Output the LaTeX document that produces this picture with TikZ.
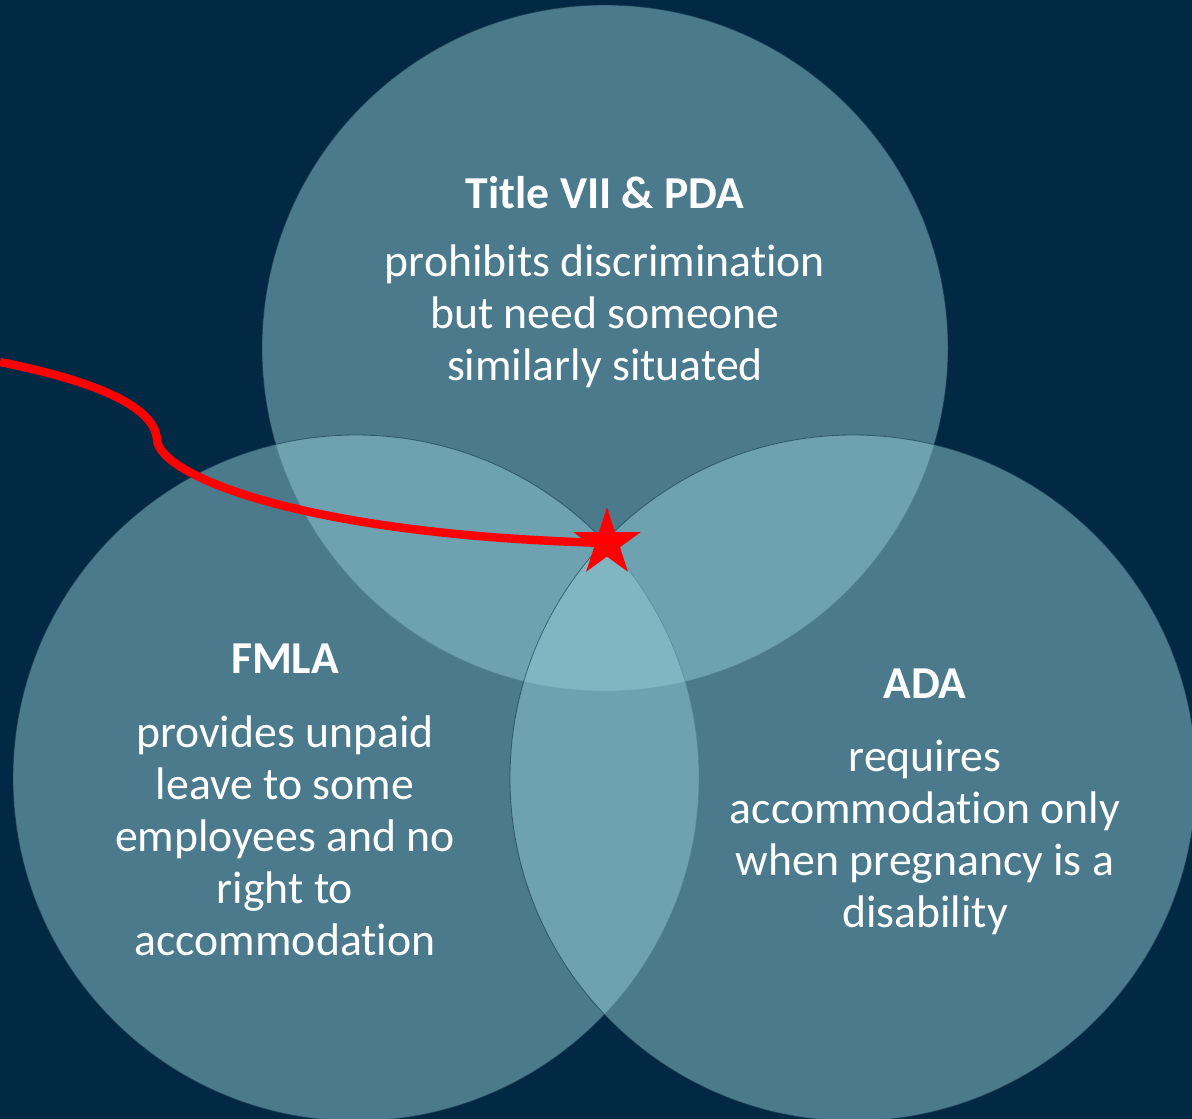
\documentclass[tikz,border=0pt]{standalone}
\usepackage{fontspec}
\setmainfont{Carlito}[Ligatures=NoCommon]
\usetikzlibrary{shapes.geometric}
\definecolor{navy}{RGB}{2,41,67}
\definecolor{venn}{RGB}{146,203,213}
\definecolor{rim}{RGB}{20,55,75}

\begin{document}
\begin{tikzpicture}[x=0.025cm, y=-0.025cm,
  lawtext/.style={text=white, inner sep=0pt, anchor=base, align=center, font=\fontsize{32.5}{36.9}\selectfont},
  lawhead/.style={lawtext, font=\fontsize{32.5}{36.9}\selectfont\bfseries}]
\fill[navy] (0,0) rectangle (1192,1119);
\useasboundingbox (0,0) rectangle (1192,1119);
\clip (0,0) rectangle (1192,1119);

% the three laws
\foreach \cx/\cy in {605/348, 356/778, 853/778} \draw[rim, draw opacity=.6, line width=.6pt, fill=venn, fill opacity=.5] (\cx,\cy) circle (343);

% base anchor sits on the last line of each block
\node[lawhead] (pda) at (605,208) {Title VII \& PDA};
\node[lawtext] (pdatext) at (605,380) {prohibits discrimination\\but need someone\\similarly situated};
\node[lawhead] (fmla) at (285,673) {FMLA};
\node[lawtext] (fmlatext) at (285,955) {provides unpaid\\leave to some\\employees and no\\right to\\accommodation};
\node[lawhead] (ada) at (925,698) {ADA};
\node[lawtext] (adatext) at (925,927) {requires\\accommodation only\\when pregnancy is a\\disability};

% red path to the gap
\node[star, star points=5, star point ratio=2.618, minimum size=1.78cm, inner sep=0pt, fill=red] (gap) at (607,543) {};
\coordinate (edge) at (0,362);
\draw[red, line width=6pt] (edge) .. controls (90,380) and (155,405) .. (157,440) .. controls (160,475) and (300,535) .. (gap.center);

\end{tikzpicture}
\end{document}
